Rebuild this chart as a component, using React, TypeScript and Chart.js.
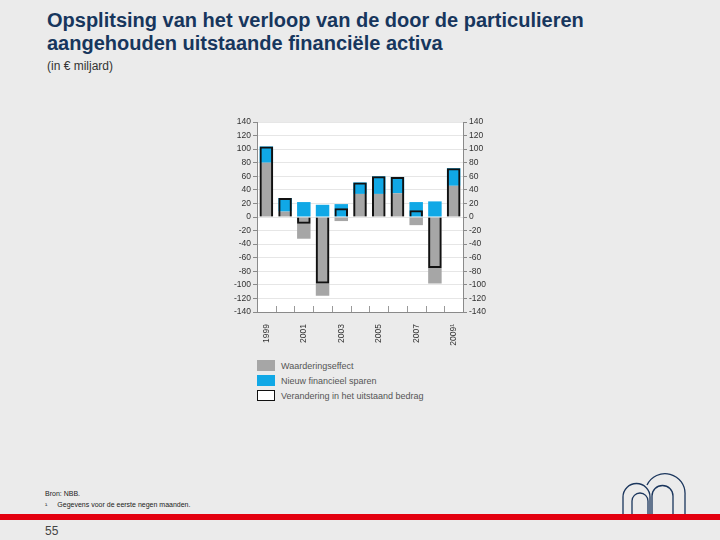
import React, { useRef, useEffect } from 'react';
import { Chart, ChartConfiguration, registerables } from 'chart.js';

Chart.register(...registerables);

const years = ['1999', '2000', '2001', '2002', '2003', '2004', '2005', '2006', '2007', '2008', '2009¹'];
const waarderingseffect = [80, 8, -32, -116, -6, 34, 34, 35, -12, -98, 46];
const nieuwSparen = [24, 20, 22, 18, 19, 17, 26, 24, 22, 23, 26];
const verandering = [104, 28, -10, -98, 13, 51, 60, 59, 10, -75, 72];

const GREY = '#a6a6a6';
const BLUE = '#10a8e6';
const FONT = '"Liberation Sans", Arial, sans-serif';

// witte achtergrond voor het plotgebied + kleine streepjes op de x-as
const plotPlugin = {
  id: 'plotExtras',
  beforeDraw(chart: Chart) {
    const { ctx, chartArea } = chart;
    ctx.save();
    ctx.fillStyle = '#ffffff';
    ctx.fillRect(chartArea.left, chartArea.top, chartArea.right - chartArea.left, chartArea.bottom - chartArea.top);
    ctx.restore();
  },
  afterDraw(chart: Chart) {
    const { ctx, chartArea } = chart;
    const x = chart.scales.x;
    const step = (chartArea.right - chartArea.left) / years.length;
    ctx.save();
    ctx.strokeStyle = '#9a9a9a';
    ctx.lineWidth = 1;
    for (let i = 1; i < years.length; i++) {
      const px = Math.round(x.getPixelForValue(i) - step / 2) + 0.5;
      ctx.beginPath();
      ctx.moveTo(px, chartArea.bottom);
      ctx.lineTo(px, chartArea.bottom - 6);
      ctx.stroke();
    }
    ctx.restore();
  },
};

const BarChart: React.FC = () => {
  const canvasRef = useRef<HTMLCanvasElement>(null);
  const chartRef = useRef<Chart | null>(null);

  useEffect(() => {
    if (!canvasRef.current) return;
    if (chartRef.current) chartRef.current.destroy();

    const tickFont = { family: FONT, size: 8.5 };

    const config: ChartConfiguration = {
      type: 'bar',
      data: {
        labels: years,
        datasets: [
          {
            label: 'Verandering in het uitstaand bedrag',
            data: verandering,
            backgroundColor: 'rgba(0,0,0,0)',
            borderColor: '#111111',
            borderWidth: 2,
            stack: 'totaal',
            order: 0,
          },
          {
            label: 'Waarderingseffect',
            data: waarderingseffect,
            backgroundColor: GREY,
            borderWidth: 0,
            stack: 'delen',
            order: 1,
          },
          {
            label: 'Nieuw financieel sparen',
            data: nieuwSparen,
            backgroundColor: BLUE,
            borderWidth: 0,
            stack: 'delen',
            order: 1,
          },
        ] as any,
      },
      options: {
        responsive: false,
        animation: false,
        layout: { padding: { top: 10, left: 0, right: 0, bottom: 0 } },
        datasets: {
          bar: { grouped: false, barPercentage: 0.72, categoryPercentage: 1 } as any,
        },
        plugins: {
          legend: { display: false },
          tooltip: { enabled: false },
        },
        scales: {
          x: {
            stacked: true,
            grid: { display: false },
            border: { display: true, color: '#8a8a8a' },
            ticks: {
              font: tickFont,
              color: '#333333',
              minRotation: 90,
              maxRotation: 90,
              autoSkip: false,
              padding: 4,
              callback: (_v: any, i: number) => (i % 2 === 0 ? years[i] : ''),
            },
            afterFit: (s: any) => { s.height = 36; },
          },
          y: {
            stacked: true,
            min: -140,
            max: 140,
            ticks: { stepSize: 20, autoSkip: false, font: tickFont, color: '#333333', padding: 2 },
            grid: { color: '#e6e6e6', tickColor: '#8a8a8a', tickLength: 4 },
            border: { display: true, color: '#8a8a8a' },
            afterFit: (s: any) => { s.width = 32; },
          },
          y2: {
            display: true,
            position: 'right',
            min: -140,
            max: 140,
            ticks: { stepSize: 20, autoSkip: false, font: tickFont, color: '#333333', padding: 2 },
            grid: { drawOnChartArea: false, tickColor: '#8a8a8a', tickLength: 4 },
            border: { display: true, color: '#8a8a8a' },
            afterFit: (s: any) => { s.width = 32; },
          },
        },
      },
      plugins: [plotPlugin],
    };

    chartRef.current = new Chart(canvasRef.current, config);
    return () => {
      if (chartRef.current) {
        chartRef.current.destroy();
        chartRef.current = null;
      }
    };
  }, []);

  return (
    <canvas
      ref={canvasRef}
      width={270}
      height={236}
      style={{ position: 'absolute', left: 225, top: 112, width: 270, height: 236 }}
    />
  );
};

const legendItems = [
  { label: 'Waarderingseffect', fill: GREY, border: 'none' },
  { label: 'Nieuw financieel sparen', fill: BLUE, border: 'none' },
  { label: 'Verandering in het uitstaand bedrag', fill: '#ffffff', border: '1.5px solid #111' },
];

const Logo: React.FC = () => (
  <svg width="70" height="48" viewBox="0 0 70 48" style={{ position: 'absolute', left: 618, top: 468 }}>
    <g fill="none" stroke="#1b365d" strokeWidth="1.3">
      <path d="M5 47 V29 A13.5 13.5 0 0 1 32 29 V47" />
      <path d="M14 47 V33 A8 8 0 0 1 30 33 V47" />
      <path d="M29 17 A20 20 0 0 1 67 27 V47" />
      <path d="M34 47 V28 A10.5 10.5 0 0 1 55 28 V47" />
    </g>
  </svg>
);

export default function App() {
  return (
    <div
      style={{
        position: 'fixed',
        left: 0,
        top: 0,
        width: 720,
        height: 540,
        background: '#ebebeb',
        overflow: 'hidden',
        fontFamily: FONT,
      }}
    >
      <div
        style={{
          position: 'absolute',
          left: 47,
          top: 9,
          fontSize: 20,
          fontWeight: 'bold',
          lineHeight: '23px',
          color: '#17365d',
          whiteSpace: 'nowrap',
        }}
      >
        Opsplitsing van het verloop van de door de particulieren
        <br />
        aangehouden uitstaande financiële activa
      </div>
      <div style={{ position: 'absolute', left: 47, top: 59, fontSize: 12, color: '#333' }}>(in € miljard)</div>

      <BarChart />

      <div style={{ position: 'absolute', left: 257, top: 358 }}>
        {legendItems.map((it) => (
          <div key={it.label} style={{ display: 'flex', alignItems: 'center', height: 15 }}>
            <div
              style={{
                width: 18,
                height: 11,
                boxSizing: 'border-box',
                background: it.fill,
                border: it.border,
                marginRight: 6,
              }}
            />
            <span style={{ fontSize: 9, color: '#555' }}>{it.label}</span>
          </div>
        ))}
      </div>

      <div style={{ position: 'absolute', left: 45, top: 488, fontSize: 7, color: '#222', lineHeight: '11px' }}>
        Bron: NBB.
        <br />
        <span style={{ marginRight: 10 }}>¹</span>Gegevens voor de eerste negen maanden.
      </div>

      <Logo />

      <div style={{ position: 'absolute', left: 0, top: 514, width: 720, height: 6, background: '#e3000f' }} />
      <div style={{ position: 'absolute', left: 45, top: 524, fontSize: 12, color: '#444' }}>55</div>
    </div>
  );
}
